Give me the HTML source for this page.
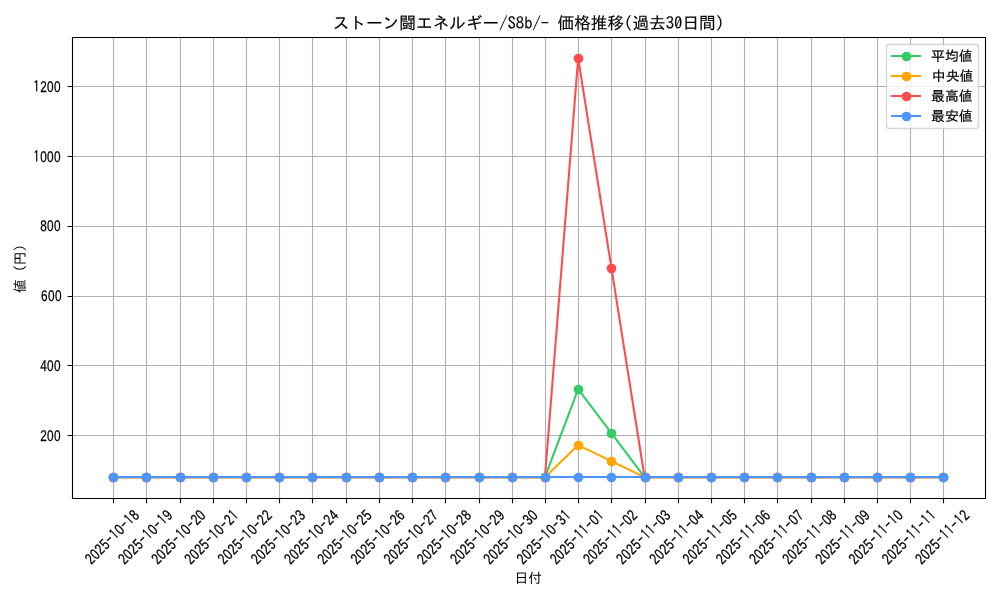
<!DOCTYPE html>
<html lang="ja">
<head>
<meta charset="utf-8">
<title>ストーン闘エネルギー/S8b/- 価格推移(過去30日間)</title>
<style>html,body{margin:0;padding:0;background:#fff;overflow:hidden}svg{display:block}.g{font-family:IPAGothic,sans-serif}</style>
</head>
<body>
<svg width="1000" height="600" viewBox="0 0 1000 600" font-family="IPAGothic, 'Noto Sans CJK JP', sans-serif" fill="#000">
<rect width="1000" height="600" fill="#fff"/>
<defs><clipPath id="ax"><rect x="71.7" y="37.083" width="913.3" height="461.117"/></clipPath></defs>
<g clip-path="url(#ax)" stroke="#b0b0b0" stroke-width="1.111" stroke-linecap="square" fill="none">
<path d="M113.5 498.2V37.083M146.5 498.2V37.083M180.5 498.2V37.083M213.5 498.2V37.083M246.5 498.2V37.083M279.5 498.2V37.083M312.5 498.2V37.083M346.5 498.2V37.083M379.5 498.2V37.083M412.5 498.2V37.083M445.5 498.2V37.083M479.5 498.2V37.083M512.5 498.2V37.083M545.5 498.2V37.083M578.5 498.2V37.083M611.5 498.2V37.083M645.5 498.2V37.083M678.5 498.2V37.083M711.5 498.2V37.083M744.5 498.2V37.083M777.5 498.2V37.083M811.5 498.2V37.083M844.5 498.2V37.083M877.5 498.2V37.083M910.5 498.2V37.083M943.5 498.2V37.083M71.7 435.5H985M71.7 365.5H985M71.7 296.5H985M71.7 226.5H985M71.7 156.5H985M71.7 86.5H985"/>
</g>
<path d="M113.5 498.5v4.861M146.5 498.5v4.861M180.5 498.5v4.861M213.5 498.5v4.861M246.5 498.5v4.861M279.5 498.5v4.861M312.5 498.5v4.861M346.5 498.5v4.861M379.5 498.5v4.861M412.5 498.5v4.861M445.5 498.5v4.861M479.5 498.5v4.861M512.5 498.5v4.861M545.5 498.5v4.861M578.5 498.5v4.861M611.5 498.5v4.861M645.5 498.5v4.861M678.5 498.5v4.861M711.5 498.5v4.861M744.5 498.5v4.861M777.5 498.5v4.861M811.5 498.5v4.861M844.5 498.5v4.861M877.5 498.5v4.861M910.5 498.5v4.861M943.5 498.5v4.861M72.5 435.5h-4.861M72.5 365.5h-4.861M72.5 296.5h-4.861M72.5 226.5h-4.861M72.5 156.5h-4.861M72.5 86.5h-4.861" stroke="#000" stroke-width="1.111" fill="none"/>
<g font-size="13.889" font-family="'Liberation Sans', IPAGothic, sans-serif" text-rendering="geometricPrecision" stroke="#000" stroke-width="0.25">
<text transform="translate(91.093 565.202) rotate(-45) scale(0.85 1.12)" x="0.223 8.393 16.563 24.733 33.292 41.462 49.243 57.802 65.972 73.753">2025<tspan class="g">-1</tspan>0<tspan class="g">-1</tspan>8</text>
<text transform="translate(124.304 565.202) rotate(-45) scale(0.85 1.12)" x="0.223 8.393 16.563 24.733 33.292 41.462 49.243 57.802 65.972 73.753">2025<tspan class="g">-1</tspan>0<tspan class="g">-1</tspan>9</text>
<text transform="translate(157.515 565.202) rotate(-45) scale(0.85 1.12)" x="0.223 8.393 16.563 24.733 33.292 41.462 49.243 57.802 65.583 73.753">2025<tspan class="g">-1</tspan>0<tspan class="g">-</tspan>20</text>
<text transform="translate(190.726 565.202) rotate(-45) scale(0.85 1.12)" x="0.223 8.393 16.563 24.733 33.292 41.462 49.243 57.802 65.583 74.142">2025<tspan class="g">-1</tspan>0<tspan class="g">-</tspan>2<tspan class="g">1</tspan></text>
<text transform="translate(223.937 565.202) rotate(-45) scale(0.85 1.12)" x="0.223 8.393 16.563 24.733 33.292 41.462 49.243 57.802 65.583 73.753">2025<tspan class="g">-1</tspan>0<tspan class="g">-</tspan>22</text>
<text transform="translate(257.148 565.202) rotate(-45) scale(0.85 1.12)" x="0.223 8.393 16.563 24.733 33.292 41.462 49.243 57.802 65.583 73.753">2025<tspan class="g">-1</tspan>0<tspan class="g">-</tspan>23</text>
<text transform="translate(290.358 565.202) rotate(-45) scale(0.85 1.12)" x="0.223 8.393 16.563 24.733 33.292 41.462 49.243 57.802 65.583 73.753">2025<tspan class="g">-1</tspan>0<tspan class="g">-</tspan>24</text>
<text transform="translate(323.569 565.202) rotate(-45) scale(0.85 1.12)" x="0.223 8.393 16.563 24.733 33.292 41.462 49.243 57.802 65.583 73.753">2025<tspan class="g">-1</tspan>0<tspan class="g">-</tspan>25</text>
<text transform="translate(356.78 565.202) rotate(-45) scale(0.85 1.12)" x="0.223 8.393 16.563 24.733 33.292 41.462 49.243 57.802 65.583 73.753">2025<tspan class="g">-1</tspan>0<tspan class="g">-</tspan>26</text>
<text transform="translate(389.991 565.202) rotate(-45) scale(0.85 1.12)" x="0.223 8.393 16.563 24.733 33.292 41.462 49.243 57.802 65.583 73.753">2025<tspan class="g">-1</tspan>0<tspan class="g">-</tspan>27</text>
<text transform="translate(423.202 565.202) rotate(-45) scale(0.85 1.12)" x="0.223 8.393 16.563 24.733 33.292 41.462 49.243 57.802 65.583 73.753">2025<tspan class="g">-1</tspan>0<tspan class="g">-</tspan>28</text>
<text transform="translate(456.413 565.202) rotate(-45) scale(0.85 1.12)" x="0.223 8.393 16.563 24.733 33.292 41.462 49.243 57.802 65.583 73.753">2025<tspan class="g">-1</tspan>0<tspan class="g">-</tspan>29</text>
<text transform="translate(489.624 565.202) rotate(-45) scale(0.85 1.12)" x="0.223 8.393 16.563 24.733 33.292 41.462 49.243 57.802 65.583 73.753">2025<tspan class="g">-1</tspan>0<tspan class="g">-</tspan>30</text>
<text transform="translate(522.835 565.202) rotate(-45) scale(0.85 1.12)" x="0.223 8.393 16.563 24.733 33.292 41.462 49.243 57.802 65.583 74.142">2025<tspan class="g">-1</tspan>0<tspan class="g">-</tspan>3<tspan class="g">1</tspan></text>
<text transform="translate(556.046 565.202) rotate(-45) scale(0.85 1.12)" x="0.223 8.393 16.563 24.733 33.292 41.462 49.632 57.802 65.583 74.142">2025<tspan class="g">-11-</tspan>0<tspan class="g">1</tspan></text>
<text transform="translate(589.257 565.202) rotate(-45) scale(0.85 1.12)" x="0.223 8.393 16.563 24.733 33.292 41.462 49.632 57.802 65.583 73.753">2025<tspan class="g">-11-</tspan>02</text>
<text transform="translate(622.468 565.202) rotate(-45) scale(0.85 1.12)" x="0.223 8.393 16.563 24.733 33.292 41.462 49.632 57.802 65.583 73.753">2025<tspan class="g">-11-</tspan>03</text>
<text transform="translate(655.678 565.202) rotate(-45) scale(0.85 1.12)" x="0.223 8.393 16.563 24.733 33.292 41.462 49.632 57.802 65.583 73.753">2025<tspan class="g">-11-</tspan>04</text>
<text transform="translate(688.889 565.202) rotate(-45) scale(0.85 1.12)" x="0.223 8.393 16.563 24.733 33.292 41.462 49.632 57.802 65.583 73.753">2025<tspan class="g">-11-</tspan>05</text>
<text transform="translate(722.1 565.202) rotate(-45) scale(0.85 1.12)" x="0.223 8.393 16.563 24.733 33.292 41.462 49.632 57.802 65.583 73.753">2025<tspan class="g">-11-</tspan>06</text>
<text transform="translate(755.311 565.202) rotate(-45) scale(0.85 1.12)" x="0.223 8.393 16.563 24.733 33.292 41.462 49.632 57.802 65.583 73.753">2025<tspan class="g">-11-</tspan>07</text>
<text transform="translate(788.522 565.202) rotate(-45) scale(0.85 1.12)" x="0.223 8.393 16.563 24.733 33.292 41.462 49.632 57.802 65.583 73.753">2025<tspan class="g">-11-</tspan>08</text>
<text transform="translate(821.733 565.202) rotate(-45) scale(0.85 1.12)" x="0.223 8.393 16.563 24.733 33.292 41.462 49.632 57.802 65.583 73.753">2025<tspan class="g">-11-</tspan>09</text>
<text transform="translate(854.944 565.202) rotate(-45) scale(0.85 1.12)" x="0.223 8.393 16.563 24.733 33.292 41.462 49.632 57.802 65.972 73.753">2025<tspan class="g">-11-1</tspan>0</text>
<text transform="translate(888.155 565.202) rotate(-45) scale(0.85 1.12)" x="0.223 8.393 16.563 24.733 33.292 41.462 49.632 57.802 65.972 74.142">2025<tspan class="g">-11-11</tspan></text>
<text transform="translate(921.366 565.202) rotate(-45) scale(0.85 1.12)" x="0.223 8.393 16.563 24.733 33.292 41.462 49.632 57.802 65.972 73.753">2025<tspan class="g">-11-1</tspan>2</text>
<text transform="translate(39.944 441) scale(0.85 1.12)" x="0.223 8.393 16.563">200</text>
<text transform="translate(39.944 371) scale(0.85 1.12)" x="0.223 8.393 16.563">400</text>
<text transform="translate(40.844 301) scale(0.85 1.12)" x="0.223 8.393 16.563">600</text>
<text transform="translate(39.944 231) scale(0.85 1.12)" x="0.223 8.393 16.563">800</text>
<text transform="translate(33 162) scale(0.85 1.12)" x="0.613 8.393 16.563 24.733"><tspan class="g">1</tspan>000</text>
<text transform="translate(33 92) scale(0.85 1.12)" x="0.613 8.393 16.563 24.733"><tspan class="g">1</tspan>200</text>
</g>
<text font-size="13.889" text-anchor="middle" x="528.35" y="583">日付</text>
<text font-size="13.889" text-anchor="middle" x="25.355" y="268.641" transform="rotate(-90 25.355 268.641)">値 (円)</text>
<g clip-path="url(#ax)" stroke-linejoin="round" stroke-linecap="square">
<path d="M113.214 477.24L544.955 477.24L578.166 389.209L611.377 433.224L644.588 477.24L943.486 477.24" fill="none" stroke="#33cc66" stroke-width="2.083"/>
<g fill="#33cc66" stroke="#33cc66" stroke-width="1.389"><circle cx="113.5" cy="477.5" r="4.167"/><circle cx="146.5" cy="477.5" r="4.167"/><circle cx="180.5" cy="477.5" r="4.167"/><circle cx="213.5" cy="477.5" r="4.167"/><circle cx="246.5" cy="477.5" r="4.167"/><circle cx="279.5" cy="477.5" r="4.167"/><circle cx="312.5" cy="477.5" r="4.167"/><circle cx="346.5" cy="477.5" r="4.167"/><circle cx="379.5" cy="477.5" r="4.167"/><circle cx="412.5" cy="477.5" r="4.167"/><circle cx="445.5" cy="477.5" r="4.167"/><circle cx="479.5" cy="477.5" r="4.167"/><circle cx="512.5" cy="477.5" r="4.167"/><circle cx="545.5" cy="477.5" r="4.167"/><circle cx="578.5" cy="389.5" r="4.167"/><circle cx="611.5" cy="433.5" r="4.167"/><circle cx="645.5" cy="477.5" r="4.167"/><circle cx="678.5" cy="477.5" r="4.167"/><circle cx="711.5" cy="477.5" r="4.167"/><circle cx="744.5" cy="477.5" r="4.167"/><circle cx="777.5" cy="477.5" r="4.167"/><circle cx="811.5" cy="477.5" r="4.167"/><circle cx="844.5" cy="477.5" r="4.167"/><circle cx="877.5" cy="477.5" r="4.167"/><circle cx="910.5" cy="477.5" r="4.167"/><circle cx="943.5" cy="477.5" r="4.167"/></g>
<path d="M113.214 477.24L544.955 477.24L578.166 445.102L611.377 461.171L644.588 477.24L943.486 477.24" fill="none" stroke="#ffa500" stroke-width="2.083"/>
<g fill="#ffa500" stroke="#ffa500" stroke-width="1.389"><circle cx="113.5" cy="477.5" r="4.167"/><circle cx="146.5" cy="477.5" r="4.167"/><circle cx="180.5" cy="477.5" r="4.167"/><circle cx="213.5" cy="477.5" r="4.167"/><circle cx="246.5" cy="477.5" r="4.167"/><circle cx="279.5" cy="477.5" r="4.167"/><circle cx="312.5" cy="477.5" r="4.167"/><circle cx="346.5" cy="477.5" r="4.167"/><circle cx="379.5" cy="477.5" r="4.167"/><circle cx="412.5" cy="477.5" r="4.167"/><circle cx="445.5" cy="477.5" r="4.167"/><circle cx="479.5" cy="477.5" r="4.167"/><circle cx="512.5" cy="477.5" r="4.167"/><circle cx="545.5" cy="477.5" r="4.167"/><circle cx="578.5" cy="445.5" r="4.167"/><circle cx="611.5" cy="461.5" r="4.167"/><circle cx="645.5" cy="477.5" r="4.167"/><circle cx="678.5" cy="477.5" r="4.167"/><circle cx="711.5" cy="477.5" r="4.167"/><circle cx="744.5" cy="477.5" r="4.167"/><circle cx="777.5" cy="477.5" r="4.167"/><circle cx="811.5" cy="477.5" r="4.167"/><circle cx="844.5" cy="477.5" r="4.167"/><circle cx="877.5" cy="477.5" r="4.167"/><circle cx="910.5" cy="477.5" r="4.167"/><circle cx="943.5" cy="477.5" r="4.167"/></g>
<path d="M113.214 477.24L544.955 477.24L578.166 58.043L611.377 267.641L644.588 477.24L943.486 477.24" fill="none" stroke="#ff4d4f" stroke-width="2.083"/>
<g fill="#ff4d4f" stroke="#ff4d4f" stroke-width="1.389"><circle cx="113.5" cy="477.5" r="4.167"/><circle cx="146.5" cy="477.5" r="4.167"/><circle cx="180.5" cy="477.5" r="4.167"/><circle cx="213.5" cy="477.5" r="4.167"/><circle cx="246.5" cy="477.5" r="4.167"/><circle cx="279.5" cy="477.5" r="4.167"/><circle cx="312.5" cy="477.5" r="4.167"/><circle cx="346.5" cy="477.5" r="4.167"/><circle cx="379.5" cy="477.5" r="4.167"/><circle cx="412.5" cy="477.5" r="4.167"/><circle cx="445.5" cy="477.5" r="4.167"/><circle cx="479.5" cy="477.5" r="4.167"/><circle cx="512.5" cy="477.5" r="4.167"/><circle cx="545.5" cy="477.5" r="4.167"/><circle cx="578.5" cy="58.5" r="4.167"/><circle cx="611.5" cy="268.5" r="4.167"/><circle cx="645.5" cy="477.5" r="4.167"/><circle cx="678.5" cy="477.5" r="4.167"/><circle cx="711.5" cy="477.5" r="4.167"/><circle cx="744.5" cy="477.5" r="4.167"/><circle cx="777.5" cy="477.5" r="4.167"/><circle cx="811.5" cy="477.5" r="4.167"/><circle cx="844.5" cy="477.5" r="4.167"/><circle cx="877.5" cy="477.5" r="4.167"/><circle cx="910.5" cy="477.5" r="4.167"/><circle cx="943.5" cy="477.5" r="4.167"/></g>
<path d="M113.214 477L943.486 477" fill="none" stroke="#4d96ff" stroke-width="2.083"/>
<g fill="#4d96ff" stroke="#4d96ff" stroke-width="1.389"><circle cx="113.5" cy="477.5" r="4.167"/><circle cx="146.5" cy="477.5" r="4.167"/><circle cx="180.5" cy="477.5" r="4.167"/><circle cx="213.5" cy="477.5" r="4.167"/><circle cx="246.5" cy="477.5" r="4.167"/><circle cx="279.5" cy="477.5" r="4.167"/><circle cx="312.5" cy="477.5" r="4.167"/><circle cx="346.5" cy="477.5" r="4.167"/><circle cx="379.5" cy="477.5" r="4.167"/><circle cx="412.5" cy="477.5" r="4.167"/><circle cx="445.5" cy="477.5" r="4.167"/><circle cx="479.5" cy="477.5" r="4.167"/><circle cx="512.5" cy="477.5" r="4.167"/><circle cx="545.5" cy="477.5" r="4.167"/><circle cx="578.5" cy="477.5" r="4.167"/><circle cx="611.5" cy="477.5" r="4.167"/><circle cx="645.5" cy="477.5" r="4.167"/><circle cx="678.5" cy="477.5" r="4.167"/><circle cx="711.5" cy="477.5" r="4.167"/><circle cx="744.5" cy="477.5" r="4.167"/><circle cx="777.5" cy="477.5" r="4.167"/><circle cx="811.5" cy="477.5" r="4.167"/><circle cx="844.5" cy="477.5" r="4.167"/><circle cx="877.5" cy="477.5" r="4.167"/><circle cx="910.5" cy="477.5" r="4.167"/><circle cx="943.5" cy="477.5" r="4.167"/></g>
</g>
<path d="M72.5 498.5V37.5M985.5 498.5V37.5M72.5 498.5H985.5M72.5 37.5H985.5" stroke="#000" stroke-width="1.111" stroke-linecap="square" fill="none"/>
<text stroke="#000" stroke-width="0.15" font-size="16.667" text-anchor="middle" x="528.35" y="28.75">ストーン闘エネルギー/S8b/- 価格推移(過去30日間)</text>
<rect x="886.5" y="44.5" width="92" height="84" rx="2.778" fill="#fff" fill-opacity="0.8" stroke="#ccc" stroke-opacity="0.8" stroke-width="1.389"/>
<path d="M891 56H921" stroke="#33cc66" stroke-width="2.083" fill="none"/>
<circle cx="906.5" cy="56.5" r="4.167" fill="#33cc66" stroke="#33cc66" stroke-width="1.389"/>
<path d="M891 76H921" stroke="#ffa500" stroke-width="2.083" fill="none"/>
<circle cx="906.5" cy="76.5" r="4.167" fill="#ffa500" stroke="#ffa500" stroke-width="1.389"/>
<path d="M891 96H921" stroke="#ff4d4f" stroke-width="2.083" fill="none"/>
<circle cx="906.5" cy="96.5" r="4.167" fill="#ff4d4f" stroke="#ff4d4f" stroke-width="1.389"/>
<path d="M891 116H921" stroke="#4d96ff" stroke-width="2.083" fill="none"/>
<circle cx="906.5" cy="116.5" r="4.167" fill="#4d96ff" stroke="#4d96ff" stroke-width="1.389"/>
<g font-size="13.889" stroke="#000" stroke-width="0.2">
<text x="931.033" y="60.82">平均値</text>
<text x="931.833" y="80.82">中央値</text>
<text x="931.033" y="100.82">最高値</text>
<text x="931.033" y="120.82">最安値</text>
</g>
</svg>
</body>
</html>
